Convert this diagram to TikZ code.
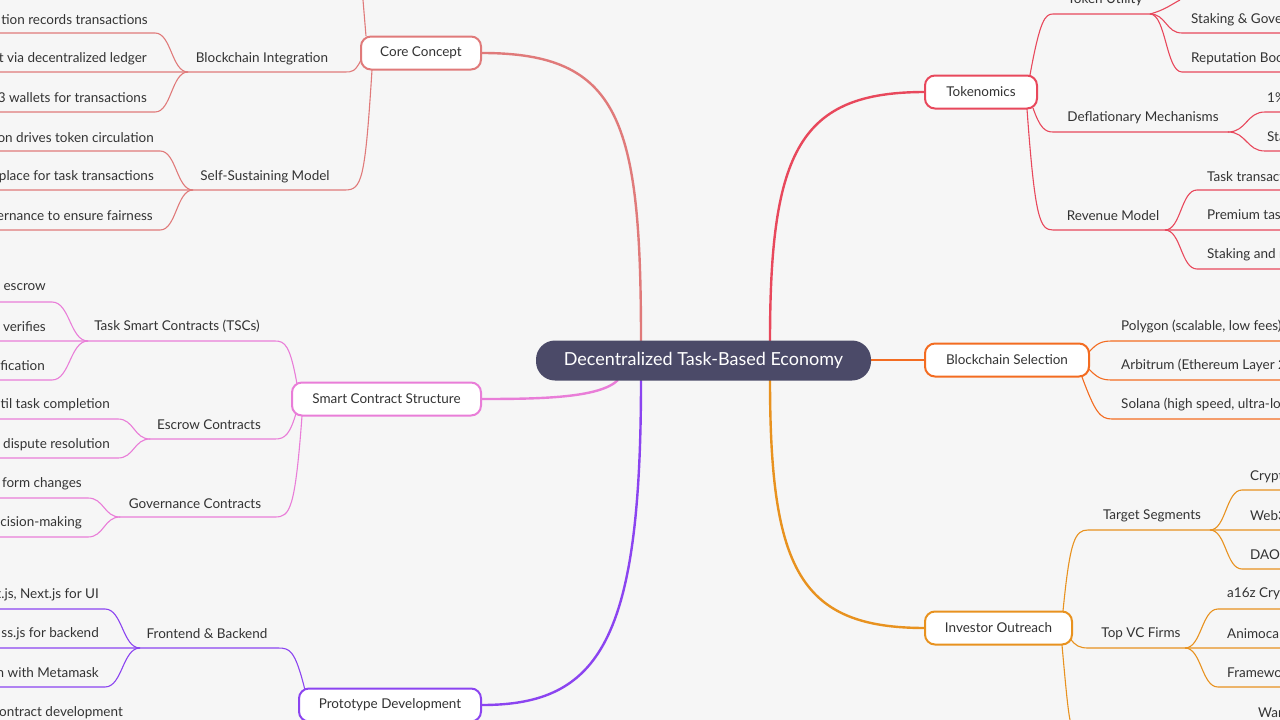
\documentclass[tikz,border=0pt]{standalone}
\usepackage{fontspec}
\setmainfont{Lato}
\definecolor{bg}{HTML}{F6F6F6}
\definecolor{txt}{HTML}{333333}
\definecolor{ccc}{HTML}{E07A7A}
\definecolor{scc}{HTML}{E97DD8}
\definecolor{pdc}{HTML}{8B44F0}
\definecolor{tkc}{HTML}{E8485C}
\definecolor{bsc}{HTML}{F36C21}
\definecolor{ioc}{HTML}{E8921F}
\definecolor{rootc}{HTML}{4B4A68}
\newcommand\scrv[4]{(#1,#2) .. controls ({(#1+#3)/2},#2) and ({(#1+#3)/2},#4) .. (#3,#4)}
\begin{document}
\begin{tikzpicture}[x=1pt,y=-1pt,
  lbl/.style={text=txt,font=\fontsize{13.5}{14}\selectfont,inner sep=0pt,yshift=-1.5pt},
  lblE/.style={lbl,anchor=east},
  lblW/.style={lbl,anchor=west},
  mainbox/.style={draw,line width=2pt,fill=white,rounded corners=10pt,text=txt,font=\fontsize{13.5}{14}\selectfont,minimum height=33pt,inner xsep=0pt},
  br/.style={line width=1.1pt},
  mb/.style={line width=2.4pt}]
\useasboundingbox[fill=bg] (0,0) rectangle (1280,720);

% main branches
\draw[mb,ccc] (641,341) .. controls (641,120) and (620,53) .. (482,53);
\draw[mb,scc] (618,380) .. controls (600,398) and (540,399) .. (482,399);
\draw[mb,pdc] (641,380) .. controls (641,640) and (600,705) .. (482,705);
\draw[mb,tkc] (770,341) .. controls (770,150) and (800,92) .. (925,92);
\draw[mb,ioc] (770,380) .. controls (770,570) and (800,628) .. (925,628);
\draw[mb,bsc] (871,360) -- (925,360);

% ===== Core Concept
\draw[br,ccc] (366,36) -- (363,0);
\draw[br,ccc] (361,60) .. controls (355,72) and (352,72) .. (345,72) -- (188,72) -- (0,72);
\draw[br,ccc] (0,33) -- (155,33) \scrv{155}{33}{188}{72};
\draw[br,ccc] (0,112) -- (155,112) \scrv{155}{112}{188}{72};
\draw[br,ccc] (372,70) .. controls (365,180) and (362,190) .. (345,190) -- (0,190);
\draw[br,ccc] (0,151) -- (160,151) \scrv{160}{151}{193}{190};
\draw[br,ccc] (0,230) -- (160,230) \scrv{160}{230}{193}{190};
\node[lbl] (bi) at (262,57) {Blockchain Integration};
\node[lbl] (ssm) at (265,175) {Self-Sustaining Model};
\node[lblE] (c1) at (148,18) {tion records transactions};
\node[lblE] (c2) at (147,57) {t via decentralized ledger};
\node[lblE] (c3) at (147,96) {3 wallets for transactions};
\node[lblE] (c4) at (154,136) {on drives token circulation};
\node[lblE] (c5) at (154,175) {place for task transactions};
\node[lblE] (c6) at (153,214) {ernance to ensure fairness};

% ===== Smart Contract Structure
\draw[br,scc] (297,384) .. controls (290,345) and (285,341) .. (275,341) -- (0,341);
\draw[br,scc] (0,302) -- (52,302) \scrv{52}{302}{88}{341};
\draw[br,scc] (0,380) -- (52,380) \scrv{52}{380}{88}{341};
\draw[br,scc] (297,410) .. controls (290,435) and (285,439) .. (275,439) -- (150,439);
\draw[br,scc] (0,419) -- (118,419) \scrv{118}{419}{150}{439};
\draw[br,scc] (0,458) -- (118,458) \scrv{118}{458}{150}{439};
\draw[br,scc] (302,416) .. controls (295,510) and (290,517) .. (275,517) -- (120,517);
\draw[br,scc] (0,498) -- (88,498) \scrv{88}{498}{120}{517};
\draw[br,scc] (0,537) -- (88,537) \scrv{88}{537}{120}{517};
\node[lbl] (tsc) at (177,325) {Task Smart Contracts (TSCs)};
\node[lbl] (esc) at (209,423) {Escrow Contracts};
\node[lbl] (gov) at (195,502) {Governance Contracts};
\node[lblE] at (46,286) {escrow};
\node[lblE] at (46,325) {verifies};
\node[lblE] at (45,364) {fication};
\node[lblE] at (110,403) {til task completion};
\node[lblE] at (110,443) {dispute resolution};
\node[lblE] at (82,482) {form changes};
\node[lblE] at (82,521) {cision-making};

% ===== Prototype Development
\draw[br,pdc] (305,690) .. controls (295,650) and (290,648) .. (278,648) -- (0,648);
\draw[br,pdc] (0,609) -- (105,609) \scrv{105}{609}{140}{648};
\draw[br,pdc] (0,687) -- (105,687) \scrv{105}{687}{140}{648};
\node[lbl] (fb) at (207,632) {Frontend \& Backend};
\node[lblE] at (99,593) {t.js, Next.js for UI};
\node[lblE] at (99,632) {ss.js for backend};
\node[lblE] at (99,671) {n with Metamask};
\node[lblE] at (123,711) {ontract development};

% ===== Tokenomics
\draw[br,tkc] (1030,75) .. controls (1040,20) and (1045,14) .. (1053,14) -- (1150,14);
\draw[br,tkc] (1150,14) .. controls (1165,10) and (1172,4) .. (1180,0);
\draw[br,tkc] \scrv{1150}{14}{1182}{33} -- (1280,33);
\draw[br,tkc] \scrv{1150}{14}{1182}{72} -- (1280,72);
\draw[br,tkc] (1033,108) .. controls (1040,128) and (1045,132) .. (1053,132) -- (1228,132);
\draw[br,tkc] \scrv{1228}{132}{1265}{112} -- (1280,112);
\draw[br,tkc] \scrv{1228}{132}{1265}{151} -- (1280,151);
\draw[br,tkc] (1027,109) .. controls (1035,220) and (1040,230) .. (1053,230) -- (1280,230);
\draw[br,tkc] \scrv{1165}{230}{1197}{190} -- (1280,190);
\draw[br,tkc] \scrv{1165}{230}{1197}{269} -- (1280,269);
\node[lbl] (tu) at (1105,-2) {Token Utility};
\node[lbl] (dm) at (1143,116) {Deflationary Mechanisms};
\node[lbl] (rm) at (1113,214) {Revenue Model};
\node[lblW] at (1191,18) {Staking \& Governance};
\node[lblW] at (1191,57) {Reputation Boost};
\node[lblW] at (1267,96) {1\% burn};
\node[lblW] at (1267,136) {Staking};
\node[lblW] at (1207,175) {Task transaction fees};
\node[lblW] at (1207,214) {Premium task listings};
\node[lblW] at (1207,253) {Staking and rewards};

% ===== Blockchain Selection
\draw[br,bsc] (1089,352) .. controls (1097,343) and (1102,341) .. (1112,341) -- (1280,341);
\draw[br,bsc] (1088,368) .. controls (1097,378) and (1102,380) .. (1112,380) -- (1280,380);
\draw[br,bsc] (1082,377) .. controls (1095,412) and (1100,419) .. (1112,419) -- (1280,419);
\node[lblW] at (1121,325) {Polygon (scalable, low fees)};
\node[lblW] at (1121,364) {Arbitrum (Ethereum Layer 2)};
\node[lblW] at (1121,403) {Solana (high speed, ultra-low fees)};

% ===== Investor Outreach
\draw[br,ioc] (1063,611) .. controls (1070,540) and (1075,530) .. (1088,530) -- (1280,530);
\draw[br,ioc] \scrv{1210}{530}{1242}{490} -- (1280,490);
\draw[br,ioc] \scrv{1210}{530}{1242}{569} -- (1280,569);
\draw[br,ioc] (1070,638) .. controls (1075,646) and (1080,648) .. (1088,648) -- (1280,648);
\draw[br,ioc] \scrv{1185}{648}{1218}{609} -- (1280,609);
\draw[br,ioc] \scrv{1185}{648}{1218}{687} -- (1280,687);
\draw[br,ioc] (1062,645) .. controls (1066,690) and (1068,710) .. (1070,720);
\node[lbl] (ts) at (1152,514) {Target Segments};
\node[lbl] (vc) at (1141,632) {Top VC Firms};
\node[lblW] at (1250,475) {Crypto};
\node[lblW] at (1250,514) {Web3};
\node[lblW] at (1250,553) {DAO};
\node[lblW] at (1227,592) {a16z Crypto};
\node[lblW] at (1227,632) {Animoca};
\node[lblW] at (1227,671) {Framework};
\node[lblW] at (1258,711) {War};

% main nodes
\node[mainbox,draw=ccc,minimum width=120pt] (core) at (421,53) {Core Concept};
\node[mainbox,draw=scc,minimum width=189pt] (scs) at (386.5,399) {Smart Contract Structure};
\node[mainbox,draw=pdc,minimum width=182pt] (pd) at (390,705) {Prototype Development};
\node[mainbox,draw=tkc,minimum width=112pt] (tok) at (981,92) {Tokenomics};
\node[mainbox,draw=bsc,minimum width=164pt] (bs) at (1007,360) {Blockchain Selection};
\node[mainbox,draw=ioc,minimum width=147pt] (io) at (998.5,628) {Investor Outreach};
\node[fill=rootc,text=white,rounded corners=19pt,minimum width=335pt,minimum height=40pt,font=\fontsize{18}{20}\selectfont] (root) at (703.5,360.5) {Decentralized Task-Based Economy};
\end{tikzpicture}
\end{document}
